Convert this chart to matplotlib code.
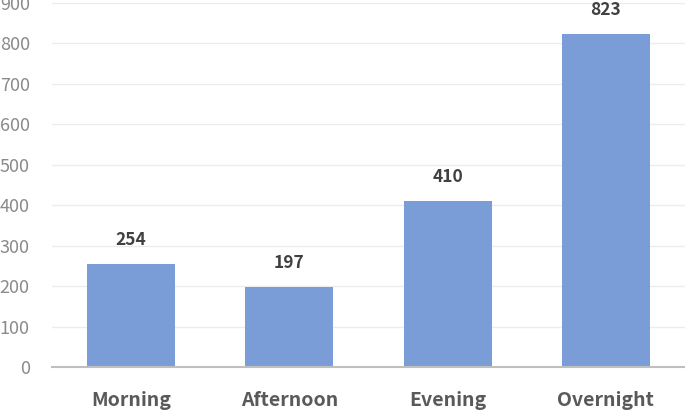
import matplotlib
matplotlib.use("Agg")
import matplotlib.pyplot as plt

categories = ["Morning", "Afternoon", "Evening", "Overnight"]
values = [254, 197, 410, 823]
yticks = [0, 100, 200, 300, 400, 500, 600, 700, 800, 900]

plt.rcParams['font.family'] = ['Noto Sans CJK JP', 'DejaVu Sans']

fig = plt.figure(figsize=(6.85, 4.11), dpi=100)
ax = fig.add_axes([52/685, 44/411, 633/685, 364/411])

x = list(range(len(categories)))
bars = ax.bar(x, values, width=0.557, color="#7b9dd7", zorder=3)
for xi, v in zip(x, values):
    ax.annotate(str(v), (xi, v), xytext=(0, 11), textcoords="offset points",
                ha="center", va="bottom", fontsize=12.5, fontweight="bold", color="#404040")

ax.set_xlim(-0.5, 3.5)
ax.set_ylim(0, 900)
ax.set_yticks(yticks)
ax.set_yticklabels([str(t) for t in yticks], fontsize=13, color="#8a8a8a")
ax.set_xticks(x)
ax.set_xticklabels(categories, fontsize=14, fontweight="bold", color="#595959")
ax.tick_params(axis="both", length=0)
ax.tick_params(axis="x", pad=17)
ax.tick_params(axis="y", pad=16)
ax.grid(axis="y", color="#ececec", linewidth=1, zorder=0)
for s in ["top", "right", "left"]:
    ax.spines[s].set_visible(False)
ax.spines["bottom"].set_color("#bfbfbf")
ax.spines["bottom"].set_linewidth(1.5)
ax.spines["bottom"].set_zorder(4)

fig.savefig("out.png", dpi=100)
